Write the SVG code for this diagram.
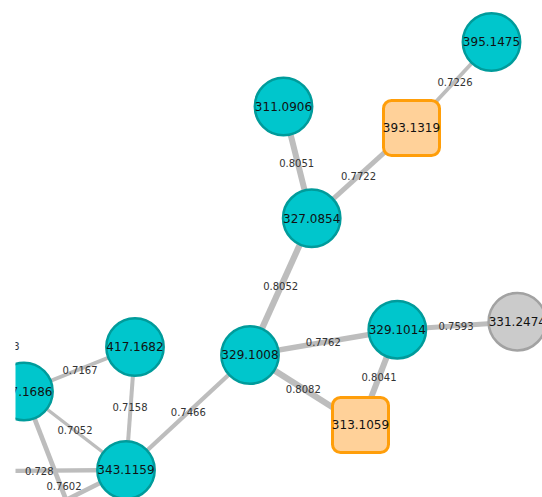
<svg xmlns="http://www.w3.org/2000/svg" width="542" height="497" viewBox="0 0 542 497">
<defs>
<clipPath id="view"><rect x="15.5" y="0" width="527" height="497"/></clipPath>
<style>
.e{stroke:#bdbdbd;stroke-linecap:butt;fill:none}
.el{font-family:"DejaVu Sans",Verdana,sans-serif;font-size:10px;fill:#333;text-anchor:middle}
.c{fill:#00c6cc;stroke:#009b9b;stroke-width:2.5}
.s{fill:#ffd199;stroke:#ff9e0a;stroke-width:3}
.g{fill:#cbcbcb;stroke:#a2a2a2;stroke-width:2.5}
.nl{font-family:"DejaVu Sans",Verdana,sans-serif;font-size:12px;fill:#111;text-anchor:middle}
</style>
</defs>
<rect width="542" height="497" fill="#fff"/>
<g clip-path="url(#view)">
<g id="connectors">
<line class="e" x1="491.5" y1="42" x2="411.5" y2="128" stroke-width="3.8"/>
<line class="e" x1="411.5" y1="128" x2="311.7" y2="218.3" stroke-width="5"/>
<line class="e" x1="283.5" y1="106.5" x2="311.7" y2="218.3" stroke-width="6"/>
<line class="e" x1="311.7" y1="218.3" x2="250" y2="355" stroke-width="6.2"/>
<line class="e" x1="250" y1="355" x2="397.3" y2="329.7" stroke-width="5.5"/>
<line class="e" x1="397.3" y1="329.7" x2="517.3" y2="321.7" stroke-width="5"/>
<line class="e" x1="397.3" y1="329.7" x2="360.5" y2="425" stroke-width="6"/>
<line class="e" x1="250" y1="355" x2="360.5" y2="425" stroke-width="6.2"/>
<line class="e" x1="250" y1="355" x2="126" y2="470" stroke-width="4.4"/>
<line class="e" x1="135" y1="347" x2="24" y2="391.5" stroke-width="4"/>
<line class="e" x1="135" y1="347" x2="126" y2="470" stroke-width="4"/>
<line class="e" x1="24" y1="391.5" x2="126" y2="470" stroke-width="3.4"/>
<line class="e" x1="126" y1="470" x2="0" y2="471" stroke-width="4.4"/>
<line class="e" x1="24" y1="391.5" x2="70" y2="510" stroke-width="4.8"/>
<line class="e" x1="126" y1="470" x2="50" y2="508" stroke-width="4.6"/>
<text class="el" x="455" y="86">0.7226</text>
<text class="el" x="358.5" y="180.3">0.7722</text>
<text class="el" x="296.7" y="167">0.8051</text>
<text class="el" x="280.7" y="290.3">0.8052</text>
<text class="el" x="323.3" y="346">0.7762</text>
<text class="el" x="456" y="330.3">0.7593</text>
<text class="el" x="379" y="381">0.8041</text>
<text class="el" x="303.3" y="392.6">0.8082</text>
<text class="el" x="188.3" y="416.3">0.7466</text>
<text class="el" x="80" y="373.6">0.7167</text>
<text class="el" x="130" y="411.3">0.7158</text>
<text class="el" x="75" y="434.3">0.7052</text>
<text class="el" x="39.3" y="474.6">0.728</text>
<text class="el" x="64" y="489.6">0.7602</text>
<text class="el" x="19.5" y="350" style="text-anchor:end">3</text>
</g>
<g id="n395.1475"><circle class="c" cx="491.5" cy="42" r="28.7"/><text class="nl" x="491.5" y="46.3">395.1475</text></g>
<g id="n311.0906"><circle class="c" cx="283.5" cy="106.5" r="28.7"/><text class="nl" x="283.5" y="110.8">311.0906</text></g>
<g id="n393.1319"><rect class="s" x="383.5" y="100.5" width="56" height="55" rx="8"/><text class="nl" x="411.5" y="132.3">393.1319</text></g>
<g id="n327.0854"><circle class="c" cx="311.7" cy="218.3" r="28.7"/><text class="nl" x="311.7" y="222.6">327.0854</text></g>
<g id="n329.1008"><circle class="c" cx="250" cy="355" r="28.7"/><text class="nl" x="250" y="359.3">329.1008</text></g>
<g id="n329.1014"><circle class="c" cx="397.3" cy="329.7" r="28.7"/><text class="nl" x="397.3" y="334">329.1014</text></g>
<g id="n331.2474"><circle class="g" cx="517.3" cy="321.7" r="28.7"/><text class="nl" x="517.3" y="326">331.2474</text></g>
<g id="n313.1059"><rect class="s" x="332.5" y="397.5" width="56" height="55" rx="8"/><text class="nl" x="360.5" y="429.3">313.1059</text></g>
<g id="n417.1682"><circle class="c" cx="135" cy="347" r="28.7"/><text class="nl" x="135" y="351.3">417.1682</text></g>
<g id="n7.1686"><circle class="c" cx="24" cy="391.5" r="28.7"/><text class="nl" x="52.5" y="395.8" style="text-anchor:end">7.1686</text></g>
<g id="n343.1159"><circle class="c" cx="126" cy="470" r="28.7"/><text class="nl" x="126" y="474.3">343.1159</text></g>
</g>
</svg>
